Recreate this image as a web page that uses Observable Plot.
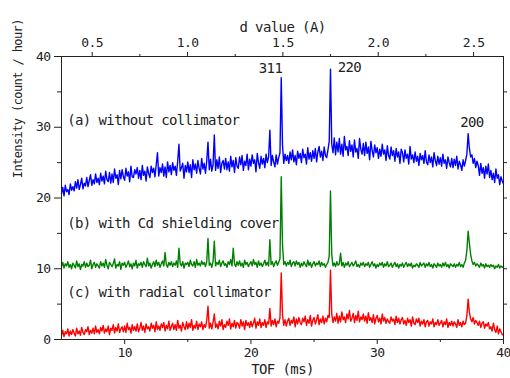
<!DOCTYPE html>
<html><head><meta charset="utf-8">
<script src="https://cdn.jsdelivr.net/npm/d3@7"></script>
<script src="https://cdn.jsdelivr.net/npm/@observablehq/plot@0.6"></script>
<style>body{margin:0;background:#fff}</style>
</head><body><div id="chart"></div>
<script>
// TOF grid: 5.0 ms to 40.0 ms, 0.1 ms per sample
const tofStart = 5.0;
const tofStep = 0.1;

// (a) without collimator (blue)
const seriesA = [
20.6,21.5,20.3,21.8,20.9,21.2,20.5,22.0,21.1,21.6,
21.0,22.3,21.4,22.6,21.2,21.9,22.8,21.3,22.1,21.7,
22.9,21.6,22.5,23.3,21.8,22.6,22.0,23.4,22.2,22.8,
21.9,23.5,22.4,23.1,22.0,23.8,22.6,22.3,23.6,22.1,
23.4,22.2,24.1,22.8,23.3,21.9,23.9,22.7,24.0,23.0,
22.5,24.2,23.1,23.7,22.3,24.5,23.0,22.9,24.0,23.4,
24.3,22.8,23.9,22.6,24.6,23.2,23.8,22.4,24.4,23.5,
22.9,24.5,23.6,24.2,23.0,24.7,26.4,23.1,24.3,23.6,
24.8,23.1,24.4,22.9,25.1,23.7,24.6,23.3,25.0,23.9,
24.5,23.2,25.2,27.6,23.8,24.3,24.9,22.8,24.6,23.7,
25.1,23.6,24.7,22.9,25.4,24.0,24.8,23.5,25.3,24.2,
23.4,25.6,24.1,24.9,23.5,25.2,27.9,24.0,25.5,23.8,
24.7,28.9,23.9,25.4,24.2,25.8,23.6,24.9,25.3,24.1,
25.6,24.0,25.1,23.8,25.9,24.4,25.3,23.6,25.7,24.5,
24.2,25.8,24.7,26.0,23.9,25.2,24.6,26.2,24.0,25.5,
24.5,26.1,24.9,25.4,23.7,26.3,25.0,24.2,25.9,24.8,
25.6,24.3,26.2,25.0,25.8,29.6,24.6,26.0,25.1,24.4,
26.1,24.8,25.7,26.4,37.0,27.5,24.9,26.2,25.3,26.0,
24.9,26.5,25.4,26.8,25.1,26.0,24.7,26.6,25.6,26.3,
25.0,26.9,25.7,26.2,24.8,27.1,25.5,26.4,25.2,26.7,
25.6,27.0,25.1,26.5,27.3,25.8,26.6,25.3,27.2,26.0,
25.7,26.8,28.0,38.2,27.6,26.4,28.5,26.1,27.9,26.5,
28.4,26.2,27.6,25.9,28.7,26.8,27.3,26.0,28.1,26.6,
27.5,25.8,28.2,26.5,27.0,25.6,28.4,26.9,26.2,27.7,
26.0,27.9,26.3,27.2,25.4,28.0,26.7,25.8,27.5,26.4,
27.1,25.6,26.9,25.9,27.6,26.2,26.8,25.3,27.4,26.0,
25.5,27.2,26.0,26.7,25.2,27.0,25.8,26.5,24.9,26.9,
26.4,25.1,26.8,25.6,26.2,24.8,27.3,25.5,26.1,25.0,
26.5,25.2,25.9,24.6,26.3,25.4,26.0,24.9,26.7,25.1,
24.7,26.1,25.0,25.8,24.4,26.4,25.3,24.6,25.9,24.8,
25.7,24.5,26.2,24.9,25.4,24.2,25.8,25.0,24.4,25.6,
24.3,25.5,24.6,25.9,24.1,25.2,24.7,23.9,25.4,24.5,
25.3,26.2,29.1,27.0,25.8,26.1,24.9,25.6,24.3,25.2,
24.6,23.2,24.9,23.5,24.3,22.8,24.5,23.4,24.8,22.9,
23.9,22.6,23.5,22.2,24.1,22.8,23.3,21.9,23.0,22.4,
22.0];

// (b) with Cd shielding cover (green)
const seriesB = [
10.3,10.9,10.1,10.7,10.4,11.0,10.2,10.6,10.0,10.8,
10.5,10.1,11.1,10.3,10.7,9.9,10.6,10.4,11.0,10.2,
10.8,10.3,10.5,11.2,10.0,10.6,10.9,10.2,10.7,10.4,
10.1,11.0,10.4,10.8,10.2,11.3,10.5,10.0,10.9,10.6,
10.3,10.7,11.4,10.1,10.6,10.4,11.0,9.9,10.8,10.5,
10.9,10.2,10.6,11.1,10.3,10.7,10.0,10.8,10.4,11.2,
10.1,10.7,10.5,10.9,10.2,11.0,10.6,10.3,11.5,10.4,
10.8,10.1,10.6,11.0,10.3,11.2,10.5,10.9,10.2,10.7,
11.1,10.4,12.3,10.6,10.2,10.9,10.5,11.0,10.3,10.8,
10.5,11.1,10.2,12.9,10.7,10.4,11.0,10.1,10.8,10.6,
10.9,10.3,11.2,10.6,10.4,11.0,10.2,11.3,10.5,10.8,
10.4,11.1,10.6,10.9,10.3,11.0,14.3,10.5,10.8,10.2,
11.0,13.9,10.4,10.9,10.6,11.2,10.3,10.8,11.1,10.5,
10.7,10.2,11.0,10.6,11.3,10.4,12.9,10.7,10.3,11.0,
10.5,11.1,10.4,10.8,10.2,11.2,10.6,10.9,10.3,10.7,
11.0,10.4,11.3,10.6,10.9,10.2,11.1,10.5,10.8,10.3,
10.7,11.2,10.5,10.9,10.4,14.1,10.6,11.0,10.3,10.8,
11.1,10.5,10.9,11.4,23.0,13.5,10.6,11.0,10.4,10.9,
10.6,11.2,10.3,10.8,11.0,10.4,11.1,10.6,10.9,10.2,
10.8,10.4,11.0,10.6,10.3,11.2,10.5,10.9,10.2,10.7,
11.0,10.4,10.8,10.6,11.1,10.3,10.9,10.5,10.7,10.2,
10.6,10.9,11.8,21.0,12.0,10.4,10.8,10.3,11.0,10.5,
10.7,12.2,10.4,10.9,10.2,10.8,10.5,11.0,10.3,10.6,
10.9,10.4,10.7,11.1,10.3,10.6,10.2,10.8,10.5,10.9,
10.3,10.7,10.5,10.9,10.2,10.6,11.0,10.4,10.7,10.1,
10.6,10.3,10.8,10.5,10.9,10.2,10.7,10.4,11.0,10.3,
10.5,10.8,10.2,10.6,10.9,10.3,10.7,10.1,10.6,10.4,
10.8,10.2,10.6,10.9,10.3,10.7,10.4,10.8,10.1,10.5,
10.3,10.7,10.5,10.2,10.9,10.4,10.6,10.8,10.2,10.7,
10.4,10.9,10.3,10.6,10.1,10.7,10.5,10.2,10.8,10.4,
10.6,10.2,10.8,10.4,10.9,10.3,10.6,10.1,10.7,10.5,
10.3,10.7,10.2,10.6,10.4,10.9,10.3,10.6,10.2,10.8,
11.2,12.6,15.3,13.6,12.0,11.1,10.6,10.9,10.4,10.7,
10.5,10.2,10.8,10.4,10.6,10.1,10.7,10.3,10.5,10.2,
10.6,10.3,10.5,10.0,10.4,10.2,10.6,10.1,10.4,10.2,
10.3];

// (c) with radial collimator (red)
const seriesC = [
0.6,1.3,0.4,1.1,0.8,1.5,0.5,1.2,0.7,1.4,
0.9,0.5,1.6,0.8,1.2,0.6,1.7,1.0,0.7,1.4,
1.1,1.8,0.7,1.3,0.9,1.6,0.8,1.9,1.0,1.4,
0.8,1.7,1.2,2.0,0.9,1.5,1.1,1.9,0.7,1.6,
1.3,2.1,0.9,1.7,1.2,2.2,1.0,1.5,1.8,1.1,
1.9,1.0,2.3,1.4,1.7,0.9,2.1,1.3,1.8,1.2,
2.2,1.1,1.6,2.4,1.3,1.9,1.0,2.2,1.5,1.8,
1.2,2.3,1.6,2.0,1.1,2.5,1.4,1.9,1.3,2.2,
1.7,2.4,1.2,2.0,1.5,2.6,1.3,1.8,2.3,1.4,
2.1,1.3,2.7,1.6,2.0,1.2,2.4,1.8,1.4,2.5,
1.5,2.3,1.7,2.8,1.3,2.0,1.6,2.6,1.4,2.2,
1.8,2.5,1.4,2.1,1.7,2.7,4.7,1.6,2.3,1.5,
2.4,3.6,1.7,2.2,1.5,2.6,1.9,2.8,1.4,2.1,
1.7,2.6,2.0,2.9,1.5,2.3,1.8,2.7,1.6,2.4,
2.2,1.6,2.8,1.9,2.5,1.4,2.7,2.0,2.4,1.7,
2.6,1.8,2.3,3.0,1.6,2.5,2.0,2.9,1.7,2.4,
2.0,2.8,1.7,2.5,2.2,4.4,1.9,2.7,2.1,2.9,
1.8,2.6,2.3,3.1,9.4,3.5,2.0,2.8,1.9,2.6,
3.0,2.0,2.7,2.3,3.2,1.8,2.9,2.2,3.1,2.4,
2.1,3.0,2.5,3.3,2.0,2.8,2.3,3.4,1.9,2.7,
3.1,2.2,2.8,3.5,2.1,2.9,2.4,3.3,2.2,3.0,
2.5,3.4,3.1,9.8,3.6,2.4,3.2,2.6,3.7,2.3,
3.3,2.5,3.9,2.8,3.2,2.4,3.6,2.9,4.1,2.6,
3.0,3.7,2.4,3.4,2.7,4.0,2.5,3.2,2.8,3.6,
2.6,3.3,2.3,3.8,2.7,3.1,2.4,3.5,2.2,3.0,
3.4,2.5,3.0,2.2,3.6,2.6,3.1,2.3,2.9,2.5,
2.3,3.2,2.6,2.9,2.1,3.3,2.4,3.0,2.2,2.8,
3.1,2.2,2.7,2.0,3.0,2.4,2.8,1.9,3.2,2.3,
2.1,2.9,2.4,3.0,1.9,2.6,2.2,2.8,1.8,2.5,
2.7,1.9,2.5,2.2,2.9,1.8,2.4,2.1,2.8,2.0,
2.3,2.7,1.8,2.5,2.1,2.9,1.7,2.4,2.0,2.6,
1.9,2.5,2.2,1.7,2.8,2.0,2.4,1.8,2.6,2.1,
2.3,3.4,5.7,3.8,2.9,2.5,3.1,2.2,2.7,2.4,
2.0,2.6,1.7,2.3,2.5,1.6,2.2,1.9,2.4,1.5,
1.8,1.2,2.3,1.4,1.0,1.9,0.8,1.5,1.1,0.7,
0.6];

// axis ticks and labels
const xTicks = [10, 20, 30, 40];
const xMinorTicks = [15, 25, 35];
const yTicks = [0, 10, 20, 30, 40];
const yMinorTicks = [5, 15, 25, 35];
const yRightTicks = [5, 10, 15, 20, 25, 30, 35];
const dTicks = [0.5, 1.0, 1.5, 2.0, 2.5];
const dTickLabels = ["0.5", "1.0", "1.5", "2.0", "2.5"];
const dMinorTicks = [0.75, 1.25, 1.75, 2.25];
const xLabel = "TOF (ms)";
const yLabel = "Intensity (count / hour)";
const topLabel = "d value (A)";
const curveLabels = ["(a) without collimator", "(b) with Cd shielding cover", "(c) with radial collimator"];
const peakLabels = ["311", "220", "200"];

// d-spacing to TOF conversion for the top axis
const dToTof = d => 15.1 * d - 0.12;
const dLabelByTof = new Map(dTicks.map((d, i) => [dToTof(d), dTickLabels[i]]));

const toRows = arr => arr.map((v, i) => ({t: +(tofStart + i * tofStep).toFixed(1), v}));
const rowsA = toRows(seriesA), rowsB = toRows(seriesB), rowsC = toRows(seriesC);

const blank = () => "";
const ink = "#222";

const chart = Plot.plot({
  width: 510, height: 378,
  marginLeft: 61, marginRight: 7, marginTop: 56, marginBottom: 39,
  style: {fontFamily: "DejaVu Sans Mono, monospace", fontSize: "13px", color: ink, background: "#fff", letterSpacing: "-0.6px"},
  x: {domain: [5, 40], axis: null},
  y: {domain: [0, 40], axis: null},
  marks: [
    Plot.lineY(rowsA, {x: "t", y: "v", stroke: "#0000ff", strokeWidth: 1.4}),
    Plot.lineY(rowsB, {x: "t", y: "v", stroke: "#008000", strokeWidth: 1.4}),
    Plot.lineY(rowsC, {x: "t", y: "v", stroke: "#ff0000", strokeWidth: 1.4}),
    Plot.frame({stroke: ink}),
    Plot.axisX(xTicks, {anchor: "bottom", tickSize: 5, tickPadding: 3, label: null}),
    Plot.axisX(xMinorTicks, {anchor: "bottom", tickSize: 3, tickFormat: blank, label: null}),
    Plot.axisX(dTicks.map(dToTof), {anchor: "top", tickSize: 5, tickPadding: 5, tickFormat: t => dLabelByTof.get(t), label: null}),
    Plot.axisX(dMinorTicks.map(dToTof), {anchor: "top", tickSize: 3, tickFormat: blank, label: null}),
    Plot.axisY(yTicks, {anchor: "left", tickSize: 7, tickPadding: 4, label: null}),
    Plot.axisY(yMinorTicks, {anchor: "left", tickSize: 4, tickFormat: blank, label: null}),
    Plot.axisY(yRightTicks, {anchor: "right", tickSize: 3, tickFormat: blank, label: null}),
    Plot.text([xLabel], {frameAnchor: "bottom", dy: 34, fontSize: 14}),
    Plot.text([topLabel], {frameAnchor: "top", dy: -34, fontSize: 14}),
    Plot.text([yLabel], {frameAnchor: "left", y: 22.8, rotate: -90, dx: -43, fontSize: 12, letterSpacing: "-0.75px"}),
    Plot.text([curveLabels[0]], {x: 5.45, y: 31.0, textAnchor: "start", fontSize: 14}),
    Plot.text([curveLabels[1]], {x: 5.45, y: 16.4, textAnchor: "start", fontSize: 14}),
    Plot.text([curveLabels[2]], {x: 5.45, y: 6.65, textAnchor: "start", fontSize: 14}),
    Plot.text([peakLabels[0]], {x: 21.55, y: 38.3, fontSize: 14}),
    Plot.text([peakLabels[1]], {x: 27.8, y: 38.5, fontSize: 14}),
    Plot.text([peakLabels[2]], {x: 37.5, y: 30.6, fontSize: 14})
  ]
});
document.getElementById("chart").appendChild(chart);
</script>
</body></html>
